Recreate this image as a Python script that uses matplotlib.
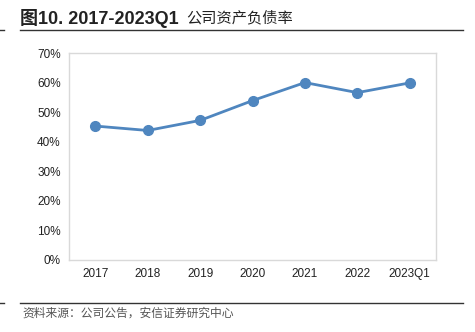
import matplotlib.pyplot as plt
from matplotlib.ticker import PercentFormatter
from matplotlib.lines import Line2D

plt.rcParams['font.family'] = ['Liberation Sans', 'Noto Sans CJK SC', 'DejaVu Sans']

# data
years = ["2017", "2018", "2019", "2020", "2021", "2022", "2023Q1"]
debtRatio = [45.3, 43.8, 47.2, 53.9, 60.0, 56.6, 59.9]
yTicks = [0, 10, 20, 30, 40, 50, 60, 70]

fig = plt.figure(figsize=(4.75, 3.32), dpi=100)
ax = fig.add_axes([69 / 475, 1 - 260 / 332, (436 - 69) / 475, (260 - 53) / 332])

xs = list(range(len(years)))
ax.plot(xs, debtRatio, color="#4f86bf", linewidth=2, marker="o", markersize=7)

ax.set_xlim(-0.5, len(years) - 0.5)
ax.set_ylim(0, 70)
ax.set_yticks(yTicks)
ax.yaxis.set_major_formatter(PercentFormatter(decimals=0))
ax.set_xticks(xs)
ax.set_xticklabels(years)
ax.tick_params(length=0, labelsize=8.5, colors="#222222", pad=6)
for spine in ax.spines.values():
    spine.set_color("#d9d9d9")
    spine.set_linewidth(1)

# title and source
fig.text(20 / 475, 1 - 18 / 332, "图10. 2017-2023Q1", fontsize=13, fontweight="bold",
         va="center", ha="left", color="#222222",
         family=['Liberation Sans', 'Noto Sans CJK SC'])
fig.text(186 / 475, 1 - 18 / 332, "公司资产负债率", fontsize=11,
         va="center", ha="left", color="#222222",
         family=['Noto Sans CJK SC', 'DejaVu Sans'])
fig.add_artist(Line2D([20 / 475, 463 / 475], [1 - 30 / 332, 1 - 30 / 332], color="#333333", linewidth=1))
fig.add_artist(Line2D([0, 4 / 475], [1 - 30 / 332, 1 - 30 / 332], color="#333333", linewidth=1))
fig.add_artist(Line2D([20 / 475, 463 / 475], [1 - 303 / 332, 1 - 303 / 332], color="#333333", linewidth=1))
fig.add_artist(Line2D([0, 4 / 475], [1 - 303 / 332, 1 - 303 / 332], color="#333333", linewidth=1))
fig.text(22 / 475, 1 - 313 / 332, "资料来源：公司公告，安信证券研究中心", fontsize=8.5, style="italic",
         va="center", ha="left", color="#555555",
         family=['Noto Sans CJK SC', 'DejaVu Sans'])

fig.savefig("out.png", dpi=100)
